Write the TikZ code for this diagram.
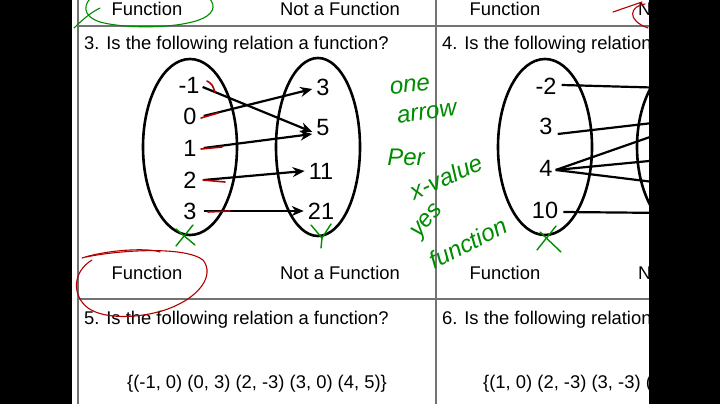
\documentclass[tikz,border=0pt]{standalone}
\usepackage{fontspec}
\setmainfont{Liberation Sans}
\usetikzlibrary{arrows.meta}
\begin{document}
\begin{tikzpicture}[x=1pt,y=-1pt,
  grid/.style={draw=black!55,line width=1.4pt},
  qtext/.style={anchor=west,font=\fontsize{18.4}{20}\selectfont,inner sep=0pt},
  opt/.style={font=\fontsize{18.4}{20}\selectfont,inner sep=0pt},
  num/.style={font=\fontsize{23.5}{25}\selectfont,inner sep=1pt},
  oval/.style={draw=black,line width=2.6pt},
  arr/.style={draw=black,line width=2.2pt,-{Stealth[length=12pt,width=10pt]}},
  ln/.style={draw=black,line width=2.2pt},
  red/.style={draw=red!70!black,line width=1.6pt,line cap=round},
  grn/.style={draw=green!55!black,line width=1.4pt,line cap=round},
  hand/.style={text=green!55!black,font=\fontsize{24}{25}\itshape,inner sep=0pt}]
\useasboundingbox (0,0) rectangle (720,404);
\fill[white] (0,0) rectangle (720,404);
% grid
\draw[grid] (78,0) -- (78,404);
\draw[grid] (436,0) -- (436,404);
\draw[grid] (78,26) -- (720,26);
\draw[grid] (78,299) -- (720,299);
% top option labels
\node[opt] (f1) at (147,9) {Function};
\node[opt] (n1) at (340,9) {Not a Function};
\node[opt] (f2) at (505,9) {Function};
\node[opt] (n2) at (698,9) {Not a Function};
% questions
\node[qtext] (q3) at (84,45) {3. Is the following relation a function?};
\node[qtext] (q4) at (442,45) {4. Is the following relation a function?};
% diagram 3
\draw[oval] (190,147) ellipse [x radius=47, y radius=88];
\draw[oval] (318,147) ellipse [x radius=42, y radius=89];
\node[num] (d1) at (189,85) {-1};
\node[num] (d2) at (190,116) {0};
\node[num] (d3) at (190,148) {1};
\node[num] (d4) at (190,180) {2};
\node[num] (d5) at (190,211) {3};
\node[num] (r1) at (323,87) {3};
\node[num] (r2) at (323,128) {5};
\node[num] (r3) at (321,171) {11};
\node[num] (r4) at (321,211) {21};
\draw[arr] ([xshift=2pt,yshift=-2pt]d1.east) -- ([xshift=-3pt,yshift=-4pt]r2.west);
\draw[arr] ([xshift=6pt]d2.east) -- ([xshift=-3pt,yshift=-2pt]r1.west);
\draw[arr] ([xshift=6pt]d3.east) -- ([xshift=-3pt,yshift=-6pt]r2.west);
\draw[arr] ([xshift=6pt]d4.east) -- ([xshift=-3pt]r3.west);
\draw[arr] ([xshift=6pt]d5.east) -- ([xshift=-3pt]r4.west);
% red ticks
\draw[red] (207,81) .. controls (212,84) .. (215,92);
\draw[red] (201,118) -- (218,113);
\draw[red] (201,149) -- (222,147);
\draw[red] (203,180) -- (225,182);
\draw[red] (208,212) -- (230,211);
% green X and Y
\draw[grn] (176,246) -- (193,225);
\draw[grn] (176,229) -- (195,245);
\draw[grn] (311,225) -- (322,238) -- (331,224);
\draw[grn] (322,238) -- (321,248);
% middle option labels
\node[opt] (f3) at (147,273) {Function};
\node[opt] (n3) at (340,273) {Not a Function};
\node[opt] (f4) at (505,273) {Function};
\node[opt] (n4) at (698,273) {Not a Function};
% questions 5,6
\node[qtext] (q5) at (84,320) {5. Is the following relation a function?};
\node[qtext] (q6) at (442,320) {6. Is the following relation a function?};
\node[opt] (s5) at (257,384) {\{(-1, 0) (0, 3) (2, -3) (3, 0) (4, 5)\}};
\node[opt,anchor=west] (s6) at (483,384) {\{(1, 0) (2, -3) (3, -3) (4, 1)\}};
% diagram 4
\draw[oval] (545,147) ellipse [x radius=47, y radius=88];
\draw[oval] (690,147) ellipse [x radius=53, y radius=88];
\node[num] (e1) at (546,86) {-2};
\node[num] (e2) at (546,126) {3};
\node[num] (e3) at (546,168) {4};
\node[num] (e4) at (545,210) {10};
\coordinate (t1) at (670,88);
\coordinate (t2) at (670,121);
\coordinate (t3) at (670,130);
\coordinate (t4) at (670,159);
\coordinate (t5) at (670,184);
\coordinate (t6) at (670,213);
\draw[ln] ([xshift=4pt,yshift=1pt]e1.east) -- (t1);
\draw[ln] ([xshift=4pt,yshift=-8pt]e2.east) -- (t2);
\draw[ln] ([xshift=2pt,yshift=-2pt]e3.east) -- (t3);
\draw[ln] ([xshift=2pt,yshift=-2pt]e3.east) -- (t4);
\draw[ln] ([xshift=2pt,yshift=-2pt]e3.east) -- (t5);
\draw[ln] ([xshift=4pt,yshift=-2pt]e4.east) -- (t6);
\draw[grn] (537,250) -- (556,226);
\draw[grn] (540,232) -- (561,252);
% green note
\node[hand,rotate=5] (h1) at (410,86) {one};
\node[hand,rotate=8] (h2) at (427,113) {arrow};
\node[hand] (h3) at (406,157) {Per};
\node[hand,rotate=24] (h4) at (446,177) {x-value};
\node[hand,rotate=50] (h5) at (428,222) {yes};
\node[hand,rotate=27] (h6) at (468,243) {function};
% green loop around top Function
\draw[grn,line width=1.1pt] (74,28) .. controls (84,18) and (92,12) .. (100,8);
\draw[grn,line width=1.1pt] (95,-6) .. controls (82,4) and (82,16) .. (100,22)
  .. controls (130,30) and (190,28) .. (207,16)
  .. controls (218,8) and (212,0) .. (205,-6);
% red loop around lower Function
\draw[red,line width=1.1pt] (82,258) .. controls (110,249) and (150,248) .. (160,252);
\draw[red,line width=1.1pt] (86,257) .. controls (120,250) and (185,246) .. (203,260)
  .. controls (215,275) and (200,298) .. (165,310)
  .. controls (140,318) and (105,320) .. (88,308)
  .. controls (72,296) and (72,272) .. (92,260);
% red mark top right
\draw[red,line width=1.1pt] (613,12) -- (642,2);
\draw[red,line width=1.1pt] (645,4) .. controls (630,6) and (626,20) .. (648,28);
% black bars
\fill[black] (0,0) rectangle (72,404);
\fill[black] (649,0) rectangle (720,404);
\end{tikzpicture}
\end{document}
